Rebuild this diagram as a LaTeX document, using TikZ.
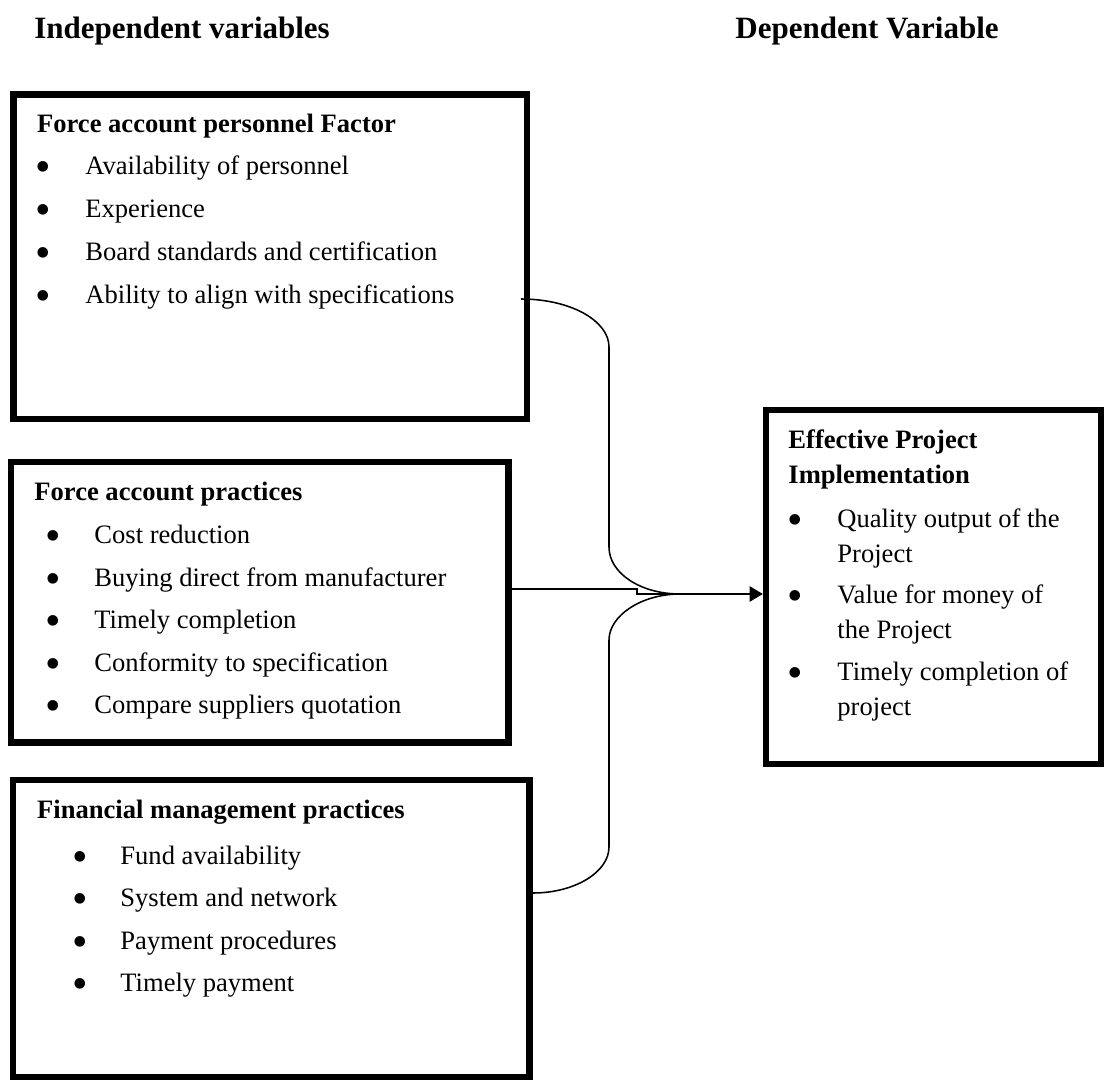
\documentclass[tikz,border=0pt]{standalone}
\usepackage{fontspec}
\setmainfont{Liberation Serif}
\usetikzlibrary{arrows.meta,fit}
\begin{document}
\begin{tikzpicture}[x=0.4517pt,y=-0.4517pt,
  box/.style={draw, line width=2.9pt, inner sep=0pt},
  head/.style={anchor=base west, inner sep=0pt, font=\fontsize{14}{16}\selectfont\bfseries},
  ttl/.style={anchor=base west, inner sep=0pt, font=\fontsize{12}{14}\selectfont\bfseries},
  itm/.style={anchor=base west, inner sep=0pt, font=\fontsize{12}{14}\selectfont},
  bul/.style={anchor=base, inner sep=0pt, yshift=-3.4pt, font=\fontsize{20}{22}\selectfont},
  conn/.style={line width=0.7pt}]
\useasboundingbox (0,0) rectangle (1105,1080);

% headings
\node[head] (h1) at (34,38) {Independent variables};
\node[head] (h2) at (735,38) {Dependent Variable};

% boxes
\coordinate (b1a) at (13.7,94.5);  \coordinate (b1b) at (527,419);
\node[box, fit=(b1a)(b1b)] (b1) {};
\coordinate (b2a) at (11,462);     \coordinate (b2b) at (508.5,742.5);
\node[box, fit=(b2a)(b2b)] (b2) {};
\coordinate (b3a) at (13,780);     \coordinate (b3b) at (529.5,1077);
\node[box, fit=(b3a)(b3b)] (b3) {};
\coordinate (b4a) at (766,410);    \coordinate (b4b) at (1101,764);
\node[box, fit=(b4a)(b4b)] (b4) {};

% box 1
\node[ttl] (t1) at (36.7,132) {Force account personnel Factor};
\node[bul] (p11) at (43,174) {•};   \node[itm] (i11) at (85,174) {Availability of personnel};
\node[bul] (p12) at (43,217) {•};   \node[itm] (i12) at (85,217) {Experience};
\node[bul] (p13) at (43,260) {•};   \node[itm] (i13) at (85,260) {Board standards and certification};
\node[bul] (p14) at (43,303) {•};   \node[itm] (i14) at (85,303) {Ability to align with specifications};

% box 2
\node[ttl] (t2) at (34,500) {Force account practices};
\node[bul] (p21) at (53,543) {•};   \node[itm] (i21) at (94,543) {Cost reduction};
\node[bul] (p22) at (53,586) {•};   \node[itm] (i22) at (94,586) {Buying direct from manufacturer};
\node[bul] (p23) at (53,628) {•};   \node[itm] (i23) at (94,628) {Timely completion};
\node[bul] (p24) at (53,671) {•};   \node[itm] (i24) at (94,671) {Conformity to specification};
\node[bul] (p25) at (53,713) {•};   \node[itm] (i25) at (94,713) {Compare suppliers quotation};

% box 3
\node[ttl] (t3) at (36.8,818) {Financial management practices};
\node[bul] (p31) at (80,864) {•};   \node[itm] (i31) at (120,864) {Fund availability};
\node[bul] (p32) at (80,906) {•};   \node[itm] (i32) at (120,906) {System and network};
\node[bul] (p33) at (80,949) {•};   \node[itm] (i33) at (120,949) {Payment procedures};
\node[bul] (p34) at (80,991) {•};   \node[itm] (i34) at (120,991) {Timely payment};

% box 4
\node[ttl] (t4a) at (788,448) {Effective Project};
\node[ttl] (t4b) at (788,483) {Implementation};
\node[bul] (p41) at (795,527) {•};  \node[itm] (i41) at (837,527) {Quality output of the};
                                     \node[itm] (i41b) at (837,562) {Project};
\node[bul] (p42) at (795,603) {•};  \node[itm] (i42) at (837,603) {Value for money of};
                                     \node[itm] (i42b) at (837,638) {the Project};
\node[bul] (p43) at (795,680) {•};  \node[itm] (i43) at (837,680) {Timely completion of};
                                     \node[itm] (i43b) at (837,715) {project};

% connectors
\coordinate (jn) at (680,594);
\coordinate (jm) at (637,594);
\path (b1.east |- 0,299) ++(-9,0) coordinate (s1);
\path (b3.east |- 0,893) coordinate (s3);

\draw[conn] (s1) .. controls (570,299) and (609,320.5) .. (609,347)
   -- (609,547) .. controls (609,573.5) and (641,594) .. (jn);
\draw[conn] (s3) .. controls (575,893) and (609,872) .. (609,847)
   -- (609,640) .. controls (609,616) and (641,594) .. (jn);
\draw[conn, -{Triangle[length=6pt,width=7pt]}] (b2.east |- 0,589) -| (jm) -- (b4.west |- jm);
\end{tikzpicture}
\end{document}
